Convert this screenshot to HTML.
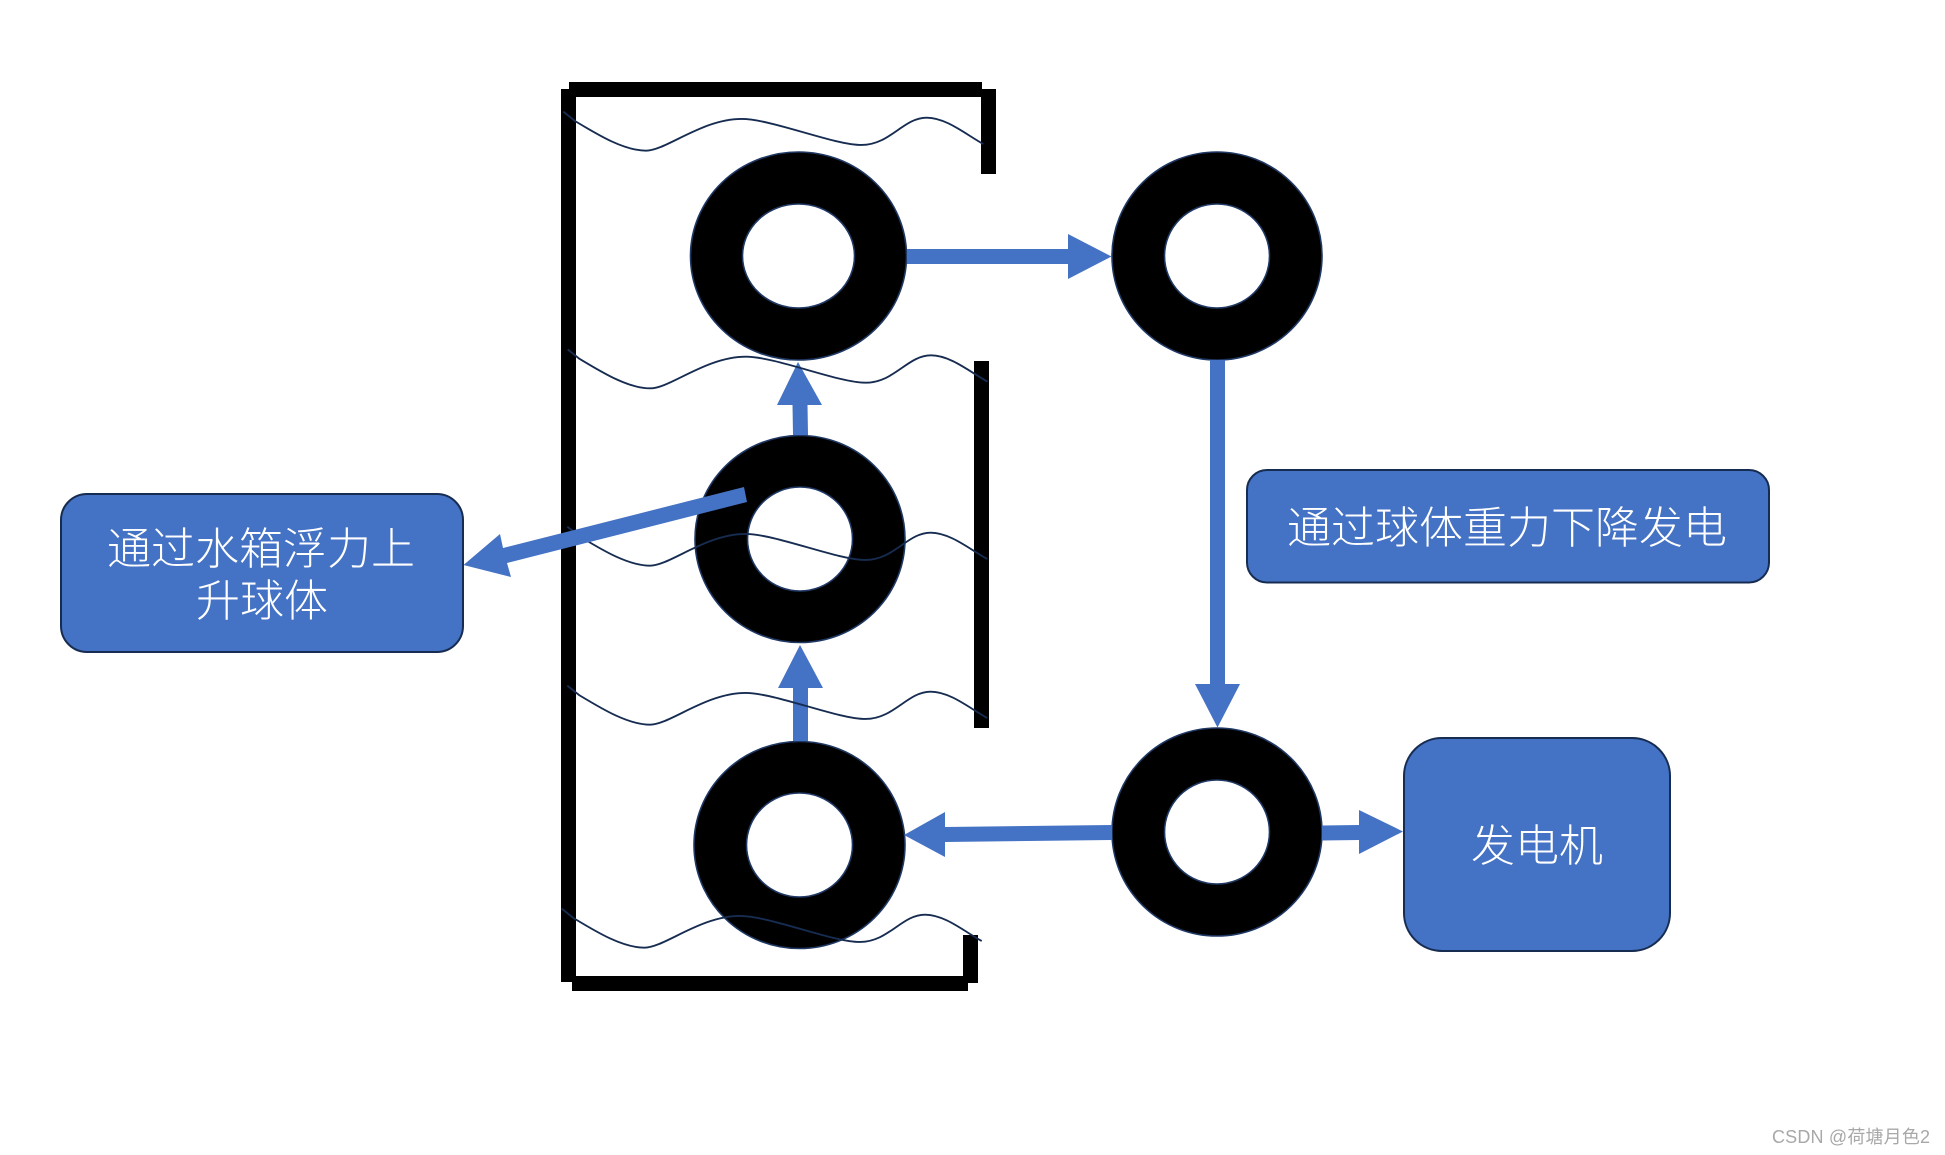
<!DOCTYPE html>
<html lang="zh">
<head>
<meta charset="utf-8">
<title>Diagram</title>
<style>
html,body{margin:0;padding:0;background:#fff;width:1945px;height:1155px;overflow:hidden}
svg{display:block}
text{font-family:"Liberation Sans","Noto Sans CJK SC",sans-serif}
</style>
</head>
<body>
<svg width="1945" height="1155" viewBox="0 0 1945 1155" xmlns="http://www.w3.org/2000/svg">
<defs>
<path id="w" fill="none" stroke="#172c51" stroke-width="5.6" d="M70,155 L105,183 C170,222 250,272 318,272 C378,272 485,177 605,177 C695,177 880,255 965,255 C1050,255 1090,173 1160,173 C1220,173 1280,225 1330,252"/>
</defs>
<rect width="1945" height="1155" fill="#fff"/>

<!-- tank walls -->
<g fill="#000">
<rect x="561" y="89" width="15" height="893"/>
<rect x="569" y="82" width="413" height="15"/>
<rect x="981" y="89" width="15" height="85"/>
<rect x="974" y="361" width="15" height="367"/>
<rect x="572" y="976" width="396" height="15"/>
<rect x="963" y="935" width="15" height="48"/>
</g>

<!-- rings -->
<g fill="#000" stroke="#1f3864" stroke-width="1.6">
<ellipse cx="798.5" cy="256" rx="108" ry="104"/>
<ellipse cx="800" cy="539" rx="105" ry="103.5"/>
<ellipse cx="799.5" cy="845" rx="105.5" ry="103.5"/>
<ellipse cx="1217" cy="256" rx="105" ry="104"/>
<ellipse cx="1217" cy="832" rx="105" ry="104"/>
</g>
<g fill="#fff" stroke="#1f3864" stroke-width="1.6">
<ellipse cx="798.5" cy="256" rx="56" ry="52"/>
<ellipse cx="800" cy="539" rx="52.5" ry="52"/>
<ellipse cx="799.5" cy="845" rx="53" ry="52"/>
<ellipse cx="1217" cy="256" rx="52.5" ry="52"/>
<ellipse cx="1217" cy="832" rx="52.5" ry="52"/>
</g>

<!-- straight arrows -->
<g fill="#4472c4">
<polygon points="907,249 1068,249 1068,234 1111.5,256.5 1068,279 1068,264 907,264"/>
<polygon points="1210,360 1225,360 1225,684 1240,684 1217.5,727.5 1195,684 1210,684"/>
<polygon points="1112,825 945,827 945,812 904,835 945,857 945,842 1112,840"/>
<polygon points="1322,825.5 1359,825 1359,810 1403,831.5 1359,854 1359,840 1322,840.5"/>
<polygon points="808,435 807.5,405 822,405 798,362 777,405 792.5,405 793,435"/>
<polygon points="808,741 808,688 823,688 800,645 778,688 793,688 793,741"/>
</g>

<!-- waves -->
<use href="#w" transform="translate(540,60) scale(.3333)"/>
<use href="#w" transform="translate(544.3,297.7) scale(.3333)"/>
<use href="#w" transform="translate(544,475) scale(.3333)"/>
<use href="#w" transform="translate(544,634) scale(.3333)"/>
<use href="#w" transform="translate(538.4,857) scale(.3333)"/>

<!-- diagonal arrow on top of wave -->
<polygon fill="#4472c4" points="744,487 747,502 507,563 511,577 463.5,565 500,534 503,548"/>

<!-- boxes -->
<g fill="#4472c4" stroke="#172c51" stroke-width="2">
<rect x="61" y="494" width="402" height="158" rx="26" ry="26"/>
<rect x="1247" y="470" width="522" height="112.5" rx="20" ry="20"/>
<rect x="1404" y="738" width="266" height="213" rx="38" ry="38"/>
</g>

<g fill="#fff" font-size="44" font-weight="300" text-anchor="middle">
<text x="261" y="564">通过水箱浮力上</text>
<text x="262" y="616">升球体</text>
<text x="1507" y="543">通过球体重力下降发电</text>
<text x="1537" y="861">发电机</text>
</g>

<text x="1772" y="1143" font-size="18" fill="#a8a8a8" textLength="158">CSDN @荷塘月色2</text>
</svg>
</body>
</html>
